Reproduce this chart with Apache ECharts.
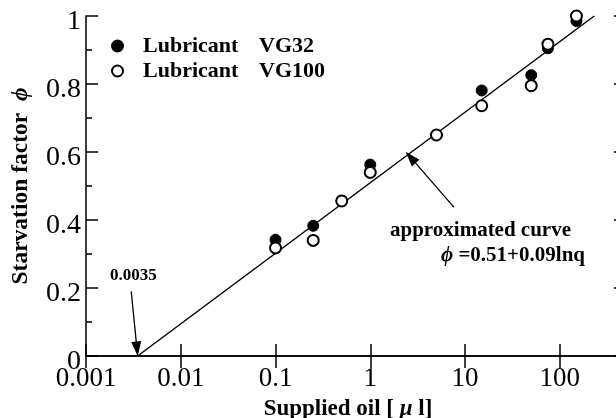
<!DOCTYPE html>
<html>
<head>
<meta charset="utf-8">
<script src="https://cdn.jsdelivr.net/npm/echarts@6/dist/echarts.min.js"></script>
<style>
  html, body { margin: 0; padding: 0; background: #fff; }
  #chart { width: 616px; height: 418px; }
</style>
</head>
<body>
<div id="chart"></div>
<script>
// supplied oil [ul] and starvation factor readings
const qSupplied = [0.1, 0.25, 0.5, 1, 5, 15, 50, 75, 150];
const phiVG32 = [0.342, 0.383, 0.456, 0.563, 0.65, 0.781, 0.826, 0.905, 0.985];
const phiVG100 = [0.318, 0.340, 0.456, 0.540, 0.650, 0.736, 0.795, 0.917, 1.0];
// approximated curve  phi = 0.51 + 0.09 ln q  (end points)
const fitQ = [0.0035, 231];
const fitPhi = [0, 1];
const seriesNames = ['Lubricant VG32', 'Lubricant VG100'];
const xTickLabels = ['0.001', '0.01', '0.1', '1', '10', '100'];
const yTickLabels = ['0', '0.2', '0.4', '0.6', '0.8', '1'];

const serif = 'Liberation Serif';
const pts = (xs, ys) => xs.map((x, i) => [x, ys[i]]);

const xBase = {
  type: 'log', logBase: 10, min: 0.001, max: 500,
  axisLine: { lineStyle: { color: '#000', width: 1.5 } },
  axisTick: { inside: true, length: 12, lineStyle: { color: '#000', width: 1.5 } },
  minorTick: { show: false },
  splitLine: { show: false }
};
const yBase = {
  type: 'value', min: 0, max: 1, interval: 0.2,
  axisLine: { show: true, lineStyle: { color: '#000', width: 1.5 } },
  axisTick: { show: true, inside: true, length: 12, lineStyle: { color: '#000', width: 1.5 } },
  minorTick: { show: true, splitNumber: 2, length: 6, lineStyle: { color: '#000', width: 1.5 } },
  splitLine: { show: false }
};

const chart = echarts.init(document.getElementById('chart'), null, { renderer: 'canvas' });
chart.setOption({
  animation: false,
  backgroundColor: '#fff',
  textStyle: { fontFamily: serif, color: '#000' },
  grid: { left: 86, width: 540, top: 16, height: 340, containLabel: false, outerBoundsMode: 'none' },
  legend: {
    orient: 'vertical',
    left: 106, top: 30,
    itemWidth: 13, itemHeight: 11, itemGap: 3,
    data: seriesNames,
    formatter: name => {
      const p = name.split(' ');
      return '{g|}{a|' + p[0] + '}{b|' + p[1] + '}';
    },
    textStyle: {
      rich: {
        g: { width: 14 },
        a: { fontFamily: serif, fontWeight: 'bold', fontSize: 22, lineHeight: 24, width: 116, color: '#000' },
        b: { fontFamily: serif, fontWeight: 'bold', fontSize: 22, lineHeight: 24, color: '#000' }
      }
    }
  },
  xAxis: [
    Object.assign({}, xBase, {
      position: 'bottom',
      name: '{a|Supplied oil [ }{b|μ}{a| l]}',
      nameLocation: 'middle',
      nameGap: 42,
      nameTextStyle: {
        padding: [0, 16, 0, 0],
        rich: {
          a: { fontFamily: serif, fontWeight: 'bold', fontSize: 23, color: '#000' },
          b: { fontFamily: serif, fontWeight: 'bold', fontStyle: 'italic', fontSize: 23, color: '#000' }
        }
      },
      axisLabel: {
        margin: 9,
        fontFamily: serif, fontSize: 27, color: '#000',
        formatter: v => {
          const e = Math.log10(v);
          if (Math.abs(e - Math.round(e)) > 1e-6) return '';
          return xTickLabels[Math.round(e) + 3] || '';
        }
      }
    }),
    Object.assign({}, xBase, { position: 'top', axisLabel: { show: false } })
  ],
  yAxis: [
    Object.assign({}, yBase, {
      position: 'left',
      name: '{a|Starvation factor  }{b|ϕ}',
      nameLocation: 'middle',
      nameGap: 53,
      nameTextStyle: {
        rich: {
          a: { fontFamily: serif, fontWeight: 'bold', fontSize: 23.5, color: '#000' },
          b: { fontFamily: serif, fontWeight: 'bold', fontStyle: 'italic', fontSize: 23.5, color: '#000' }
        }
      },
      axisLabel: {
        margin: 5,
        formatter: v => '{t|' + yTickLabels[Math.round(v * 5)] + '}',
        rich: {
          t: { fontFamily: serif, fontSize: 28, color: '#000', padding: [12, 0, 0, 0] }
        }
      }
    }),
    Object.assign({}, yBase, { position: 'right', axisLabel: { show: false } })
  ],
  graphic: [
    { type: 'text', left: 110, top: 267, style: { text: '0.0035', font: 'bold 17px "Liberation Serif"', fill: '#000' } },
    { type: 'text', left: 390, top: 220, style: { text: 'approximated curve', font: 'bold 21px "Liberation Serif"', fill: '#000' } },
    { type: 'text', left: 441, top: 245, style: {
        text: '{b|ϕ} =0.51+0.09lnq',
        font: 'bold 21px "Liberation Serif"', fill: '#000',
        rich: { b: { fontFamily: serif, fontWeight: 'bold', fontStyle: 'italic', fontSize: 21, fill: '#000' } }
    } }
  ],
  series: [
    {
      name: 'fit', type: 'line', xAxisIndex: 0, yAxisIndex: 0,
      data: pts(fitQ, fitPhi),
      symbol: 'none', z: 1,
      lineStyle: { color: '#000', width: 1.5 },
      markLine: {
        silent: true,
        symbol: ['none', 'triangle'],
        symbolSize: [10, 15],
        label: { show: false },
        lineStyle: { color: '#000', width: 1.3, type: 'solid' },
        data: [
          [{ coord: [0.003, 0.19] }, { coord: [0.00345, 0.021] }],
          [{ coord: [7.66, 0.437] }, { coord: [2.67, 0.584] }]
        ]
      }
    },
    {
      name: seriesNames[0], type: 'scatter', xAxisIndex: 0, yAxisIndex: 0,
      data: pts(qSupplied, phiVG32),
      symbol: 'circle', symbolSize: 11, z: 3,
      itemStyle: { color: '#000', borderColor: '#000', borderWidth: 1, opacity: 1 }
    },
    {
      name: seriesNames[1], type: 'scatter', xAxisIndex: 0, yAxisIndex: 0,
      data: pts(qSupplied, phiVG100),
      symbol: 'circle', symbolSize: 11, z: 4,
      itemStyle: { color: '#fff', borderColor: '#000', borderWidth: 2, opacity: 1 }
    }
  ]
});
</script>
</body>
</html>
